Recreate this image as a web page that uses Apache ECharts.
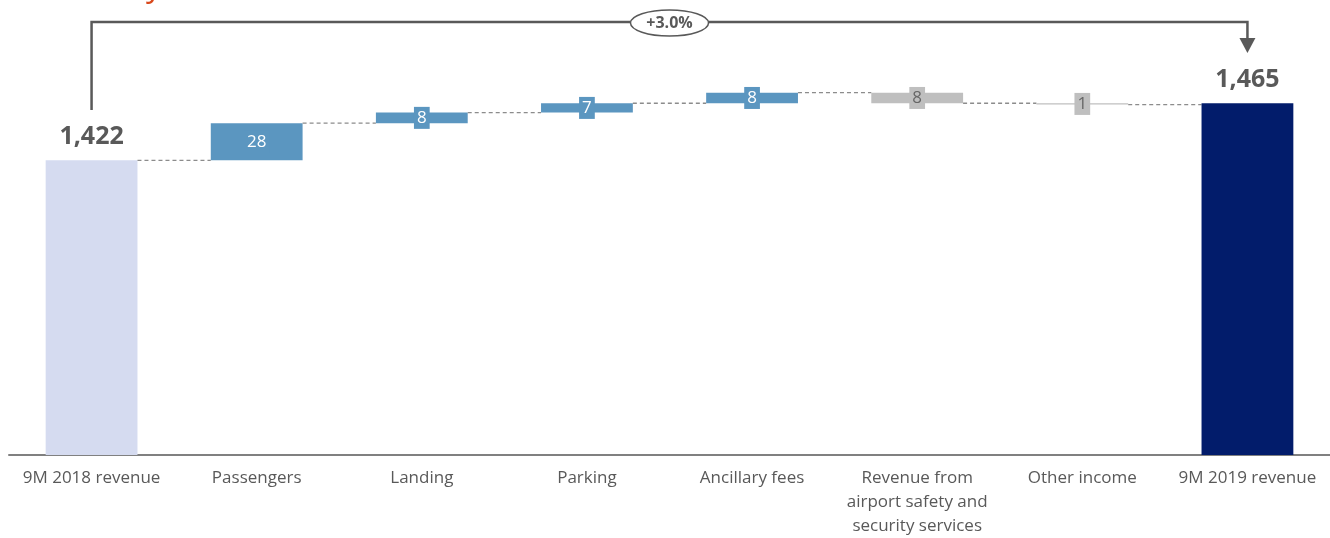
<!DOCTYPE html>
<html>
<head>
<meta charset="utf-8">
<script src="https://cdn.jsdelivr.net/npm/echarts@6/dist/echarts.min.js"></script>
<style>
  html, body { margin: 0; padding: 0; background: #fff; }
  #chart { width: 1330px; height: 538px; }
</style>
</head>
<body>
<div id="chart"></div>
<script>
var categories = ['9M 2018 revenue', 'Passengers', 'Landing', 'Parking', 'Ancillary fees',
  'Revenue from\nairport safety and\nsecurity services', 'Other income', '9M 2019 revenue'];
var startTotal = 1422;
var endTotal = 1465;
var deltas = [28, 8, 7, 8, -8, -1];
var deltaLabels = ['28', '8', '7', '8', '8', '1'];
var growthLabel = '+3.0%';

var FONT = '"Open Sans", "Noto Sans", sans-serif';
var GREY_TXT = '#595959';

// build waterfall rows: [index, low, high, kind, label, levelAfter]
var rows = [];
var level = startTotal;
rows.push([0, 0, startTotal, 'start', '1,422', startTotal]);
deltas.forEach(function (d, i) {
  var next = level + d;
  rows.push([i + 1, Math.min(level, next), Math.max(level, next), d >= 0 ? 'up' : 'down', deltaLabels[i], next]);
  level = next;
});
rows.push([categories.length - 1, 0, endTotal, 'end', '1,465', endTotal]);

var colors = { start: '#d5dbf0', up: '#5b96c0', down: '#bfbfbf', end: '#021c6b' };

function renderItem(params, api) {
  var idx = api.value(0);
  var low = api.value(1), high = api.value(2);
  var row = rows[params.dataIndex];
  var kind = row[3];
  var bottom = params.coordSys.y + params.coordSys.height;
  var bandW = api.size([1, 0])[0];
  var w = bandW * 0.556;
  var pLow = api.coord([idx, low]);
  var pHigh = api.coord([idx, high]);
  var yLow = Math.min(pLow[1], bottom);
  var x = pLow[0] - w / 2;
  var children = [{
    type: 'rect',
    shape: { x: x, y: pHigh[1], width: w, height: Math.max(yLow - pHigh[1], 1.2) },
    style: { fill: colors[kind] }
  }];
  // connector to next bar
  if (params.dataIndex < rows.length - 1) {
    var pl = api.coord([idx, row[5]]);
    children.push({
      type: 'line',
      shape: { x1: x + w, y1: pl[1], x2: x + w + (bandW - w), y2: pl[1] },
      style: { stroke: '#8c8c8c', lineWidth: 1.3, lineDash: [4, 3] }
    });
  }
  if (kind === 'start' || kind === 'end') {
    children.push({
      type: 'text',
      style: {
        text: row[4], x: pHigh[0], y: pHigh[1] - 11,
        align: 'center', verticalAlign: 'bottom',
        fill: GREY_TXT, font: 'bold 25px ' + FONT
      }
    });
  } else {
    children.push({
      type: 'text',
      style: {
        text: row[4], x: pLow[0], y: (yLow + pHigh[1]) / 2,
        align: 'center', verticalAlign: 'middle',
        fill: kind === 'up' ? '#ffffff' : '#666666',
        font: '17px ' + FONT,
        backgroundColor: colors[kind],
        padding: [3, 3, 2, 3]
      }
    });
  }
  return { type: 'group', children: children };
}

var myChart = echarts.init(document.getElementById('chart'));
var option = {
  animation: false,
  grid: { left: 9, right: -3, top: 17, bottom: 83 },
  xAxis: {
    type: 'category',
    data: categories,
    axisLine: { lineStyle: { color: '#808080', width: 2 } },
    axisTick: { show: false },
    axisLabel: {
      interval: 0, color: GREY_TXT, fontFamily: FONT, fontSize: 17,
      lineHeight: 24, margin: 11
    }
  },
  yAxis: {
    type: 'value', min: 1200, max: 1530, show: false, splitLine: { show: false }
  },
  series: [{
    type: 'custom',
    renderItem: renderItem,
    z: 1,
    encode: { x: 0, y: [1, 2] },
    data: rows.map(function (r) { return [r[0], r[1], r[2]]; })
  }]
};
myChart.setOption(option);

// bracket with growth annotation
var xa = myChart.convertToPixel({ xAxisIndex: 0 }, 0);
var xb = myChart.convertToPixel({ xAxisIndex: 0 }, categories.length - 1);
var topY = 22;
var mid = (xa + xb) / 2;
myChart.setOption({
  graphic: [
    {
      type: 'text', left: 146, top: -29,
      style: { text: 'y', fill: '#d9481c', font: '32px ' + FONT }
    },
    {
      type: 'polyline',
      shape: { points: [[xa, 110], [xa, topY], [xb, topY], [xb, 40]] },
      style: { stroke: '#595959', lineWidth: 2.5, fill: null }
    },
    {
      type: 'polygon',
      shape: { points: [[xb - 8, 38], [xb + 8, 38], [xb, 53]] },
      style: { fill: '#595959' }
    },
    {
      type: 'ellipse',
      shape: { cx: mid, cy: topY + 1, rx: 39, ry: 13 },
      style: { fill: '#fff', stroke: '#595959', lineWidth: 1.5 }
    },
    {
      type: 'text', x: mid, y: topY + 1,
      style: {
        text: growthLabel, align: 'center', verticalAlign: 'middle',
        fill: GREY_TXT, font: 'bold 16px ' + FONT
      }
    }
  ]
});
</script>
</body>
</html>
